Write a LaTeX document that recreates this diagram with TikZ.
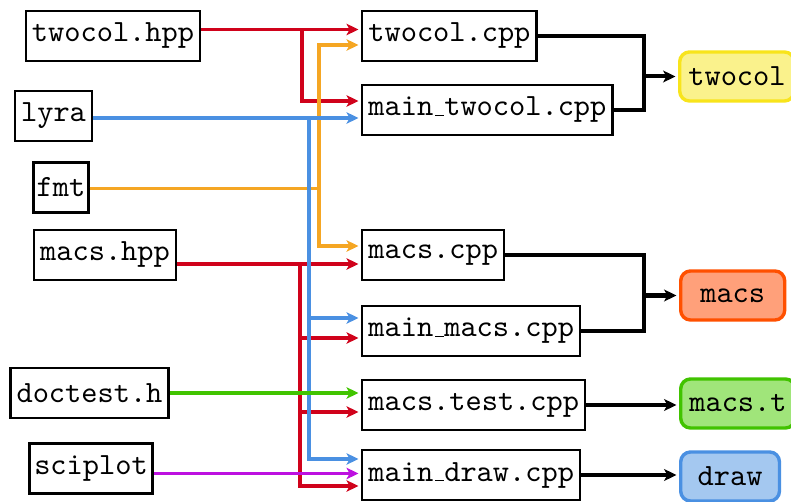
\documentclass[tikz,border=0pt]{standalone}
\usetikzlibrary{arrows.meta,calc}
\definecolor{cred}{RGB}{208,2,27}
\definecolor{cblue}{RGB}{74,144,226}
\definecolor{corange}{RGB}{245,166,35}
\definecolor{cgreen}{RGB}{65,196,0}
\definecolor{cpurple}{RGB}{189,16,224}
\definecolor{yfill}{RGB}{250,242,140}
\definecolor{ydraw}{RGB}{248,228,28}
\definecolor{ofill}{RGB}{255,160,122}
\definecolor{odraw}{RGB}{255,80,0}
\definecolor{gfill}{RGB}{160,229,122}
\definecolor{gdraw}{RGB}{65,195,0}
\definecolor{bfill}{RGB}{164,200,240}
\definecolor{bdraw}{RGB}{74,144,226}
\newcommand\myus{\leavevmode\kern.06em\vbox{\hrule width.3em height 0.4pt}}
\tikzset{
  filebox/.style={draw=black,line width=0.8pt,font=\ttfamily,inner xsep=2pt,inner ysep=0pt,minimum height=16.2pt},
  target/.style={rounded corners=3.2pt,line width=1.1pt,font=\ttfamily,inner xsep=2.8pt,inner ysep=0pt,minimum height=15.9pt},
  conn/.style={line width=1.1pt,-{Stealth[length=3.9pt,width=3.7pt,inset=1pt]},shorten >=0.8pt},
  link/.style={line width=1.1pt},
  blk/.style={line width=1.3pt,draw=black},
  blkarr/.style={line width=1.3pt,-{Stealth[length=4pt,width=3.8pt,inset=1pt]},shorten >=0.8pt}
}
\begin{document}
\begin{tikzpicture}[x=0.324pt,y=-0.324pt]
\useasboundingbox (0,0) rectangle (791,502);
% left column
\node[filebox] (thpp) at (113,36) {twocol.hpp};
\node[filebox] (lyra) at (53.5,116) {lyra};
\node[filebox,inner xsep=1pt] (fmt) at (61,187.5) {fmt};
\node[filebox] (mhpp) at (105,255) {macs.hpp};
\node[filebox] (doct) at (89.5,393) {doctest.h};
\node[filebox,inner xsep=1.6pt] (scip) at (91,468.5) {sciplot};
% middle column
\node[filebox,anchor=west] (tcpp) at (361,36) {twocol.cpp};
\node[filebox,anchor=west] (mtcpp) at (361,110) {main\myus twocol.cpp};
\node[filebox,anchor=west] (mcpp) at (361,255) {macs.cpp};
\node[filebox,anchor=west] (mmcpp) at (361,331) {main\myus macs.cpp};
\node[filebox,anchor=west] (mtest) at (361,405) {macs.test.cpp};
\node[filebox,anchor=west] (mdcpp) at (361,475) {main\myus draw.cpp};
% right column
\node[target,fill=yfill,draw=ydraw,anchor=west] (twocol) at (678,76.5) {twocol};
\node[target,fill=ofill,draw=odraw,anchor=west,minimum width=33.7pt] (macs) at (679,295.5) {macs};
\node[target,fill=gfill,draw=gdraw,anchor=west] (macst) at (679,403.5) {macs.t};
\node[target,fill=bfill,draw=bdraw,anchor=west,minimum width=32pt] (draw) at (679,476.5) {draw};
% branch points
\coordinate (rb1) at (302,29.5);
\coordinate (ob) at (319,188.5);
\coordinate (bb) at (309,118);
\coordinate (rb2) at (300,264);
\coordinate (j1) at (644,74);
\coordinate (j2) at (644,295);
% red from twocol.hpp
\draw[cred,conn] ($(thpp.east)+(0,-6.5)$) -- ($(tcpp.west)+(0,-6.5)$);
\draw[cred,conn] (rb1) |- ($(mtcpp.west)+(0,-9)$);
% red from macs.hpp
\draw[cred,conn] ($(mhpp.east)+(0,9)$) -- ($(mcpp.west)+(0,9)$);
\draw[cred,conn] (rb2) |- ($(mmcpp.west)+(0,7)$);
\draw[cred,conn] (rb2) |- ($(mtest.west)+(0,7)$);
\draw[cred,conn] (rb2) |- ($(mdcpp.west)+(0,11)$);
% orange from fmt
\draw[corange,link] ($(fmt.east)+(0,1)$) -- (ob);
\draw[corange,conn] (ob) |- ($(tcpp.west)+(0,9)$);
\draw[corange,conn] (ob) |- ($(mcpp.west)+(0,-9)$);
% blue from lyra
\draw[cblue,conn] ($(lyra.east)+(0,2)$) -- ($(mtcpp.west)+(0,8)$);
\draw[cblue,conn] (bb) |- ($(mmcpp.west)+(0,-13)$);
\draw[cblue,conn] (bb) |- ($(mdcpp.west)+(0,-16)$);
% green from doctest.h
\draw[cgreen,conn] (doct.east) -- (doct.east -| mtest.west);
% purple from sciplot
\draw[cpurple,conn] ($(scip.east)+(0,5)$) -- ($(mdcpp.west)+(0,-1.5)$);
% black to targets
\draw[blk] (tcpp.east) -| (j1 |- mtcpp.east) -- (mtcpp.east);
\draw[blkarr] (j1 |- twocol.west) -- (twocol.west);
\draw[blk] (mcpp.east) -| (j2 |- mmcpp.east) -- (mmcpp.east);
\draw[blkarr] (j2 |- macs.west) -- (macs.west);
\draw[blkarr] (mtest.east) -- (mtest.east -| macst.west);
\draw[blkarr] (mdcpp.east) -- (mdcpp.east -| draw.west);
\end{tikzpicture}
\end{document}
